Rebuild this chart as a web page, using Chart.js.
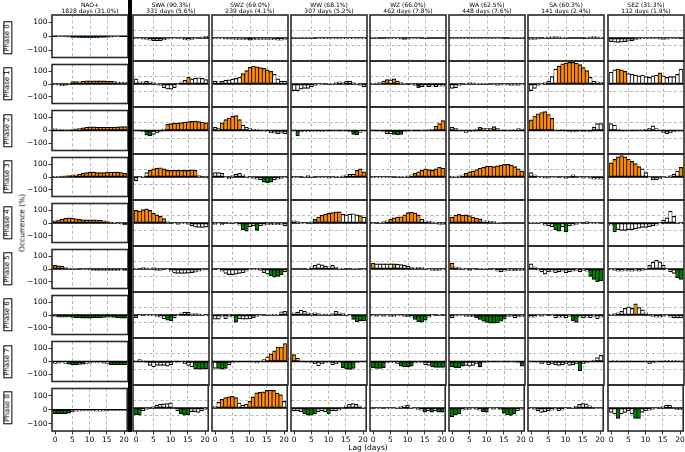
<!DOCTYPE html>
<html>
<head>
<meta charset="utf-8">
<script src="https://cdn.jsdelivr.net/npm/chart.js@4.4.1/dist/chart.umd.min.js"></script>
<style>
  body { margin: 0; background: #fff; }
  #fig { position: relative; width: 685px; height: 452px; overflow: hidden; font-family: 'DejaVu Sans', sans-serif; color: #000; }
  #fig canvas { position: absolute; }
  .rot { position: absolute; white-space: nowrap; transform: translate(-50%, -50%) rotate(-90deg); }
  .phase { font-size: 7px; line-height: 7.3px; padding: 0 1.5px; border: 1px solid #000; background: #fff; }
  .lbl { font-size: 7.5px; }
  #sep { position: absolute; left: 128.3px; top: 0; width: 4px; height: 432px; background: #000; }
</style>
</head>
<body>
<div id="fig"></div>
<script>
// lags (days) and axis ticks
const lags = [0, 1, 2, 3, 4, 5, 6, 7, 8, 9, 10, 11, 12, 13, 14, 15, 16, 17, 18, 19, 20]
const xTicks = [0, 5, 10, 15, 20]
const yTicks = [-100, -50, 0, 50, 100]
const phases = ['Phase 0', 'Phase 1', 'Phase 2', 'Phase 3', 'Phase 4', 'Phase 5', 'Phase 6', 'Phase 7', 'Phase 8']
const regimeNames = ['NAO+', 'SWA (90.3%)', 'SWZ (69.0%)', 'WW (68.1%)', 'WZ (66.0%)', 'WA (62.5%)', 'SA (60.3%)', 'SEZ (31.3%)']
const regimeDays = ['1828 days (31.0%)', '331 days (5.6%)', '239 days (4.1%)', '307 days (5.2%)', '462 days (7.8%)', '448 days (7.6%)', '141 days (2.4%)', '112 days (1.9%)']

// occurrence anomaly (%) per phase, one row per phase 0..8
const naoPlus = [
  [0,-2,-3,-4,-6,-8,-9,-10,-10,-10,-10,-10,-10,-9,-8,-7,-6,-4,-2,0,0],
  [-5,-10,-15,-12,5,20,20,18,22,25,25,25,25,25,25,22,22,20,15,15,15],
  [12,10,8,5,5,8,12,15,20,25,28,28,25,25,25,25,25,25,28,30,30],
  [3,5,8,10,12,15,18,22,28,35,38,38,35,35,35,38,38,38,38,35,28],
  [17,24,30,37,40,38,33,28,25,25,25,25,24,22,18,12,8,2,-5,-10,-15],
  [28,25,22,12,5,3,2,0,-3,-5,-10,-12,-12,-12,-12,-12,-12,-12,-12,-10,-12],
  [-12,-18,-18,-18,-16,-20,-22,-24,-25,-25,-25,-24,-22,-22,-20,-18,-18,-20,-22,-25,-25],
  [-15,-12,-10,-15,-20,-25,-25,-22,-20,-15,-12,-10,-8,-10,-12,-15,-25,-25,-25,-25,-25],
  [-28,-28,-28,-28,-25,-15,-10,-10,-8,-5,-5,-8,-10,-10,-8,-8,-5,-5,-3,-5,-3]
]
const swa = [
  [-3,-5,-8,-10,-15,-18,-20,-18,-12,-8,-5,-5,-3,-5,-12,-15,-10,-5,0,8,12],
  [35,15,15,18,15,10,5,-10,-25,-35,-35,-25,-5,15,25,45,35,40,42,38,30],
  [5,0,-10,-30,-35,-25,-15,-10,10,40,45,48,48,52,55,58,60,62,58,55,50],
  [-25,-5,5,30,45,55,60,62,55,45,45,45,45,45,45,45,48,45,10,0,-8],
  [85,80,90,95,85,65,55,45,30,10,0,-5,-10,-5,-5,-10,-20,-28,-30,-30,-28],
  [5,0,10,8,5,10,-10,-10,0,-5,-15,-28,-30,-30,-30,-28,-25,-22,-15,-8,0],
  [-18,-5,0,-5,-5,-5,-10,-15,-25,-35,-38,-20,-5,15,20,18,8,10,8,5,-5],
  [5,12,5,-10,-25,-35,-25,-25,-25,-30,-20,-8,0,-3,-15,-25,-35,-48,-50,-50,-48],
  [-45,-48,-20,-10,0,10,20,25,28,30,35,0,-20,-40,-48,-45,-25,-25,-30,-20,-10]
]
const swz = [
  [-3,-5,-5,-8,-8,-8,-10,-10,-10,-12,-15,-12,-10,-10,-10,-10,-10,-12,-15,-15,-10],
  [20,15,18,25,28,32,38,45,70,90,112,120,115,110,105,95,85,65,35,20,20],
  [20,15,50,72,82,93,98,72,35,20,12,10,8,5,-3,-8,-15,-18,-20,-18,-20],
  [30,30,25,-5,-12,10,20,25,15,5,-5,-10,-15,-20,-35,-38,-35,-20,-15,-10,-5],
  [-10,-5,-12,0,5,2,-5,-15,-45,-55,-25,-20,-50,-20,-15,-10,-12,-10,-12,-10,-20],
  [0,-5,-15,-30,-38,-38,-35,-30,-25,-15,-5,-3,-5,-10,-25,-35,-45,-55,-50,-40,-20],
  [-28,-28,-10,-25,-10,-15,-48,-25,-28,-28,-25,-18,-10,-5,0,5,5,2,5,22,25],
  [-45,-45,-50,-45,-20,-10,-5,0,0,0,0,-5,-10,-5,12,30,50,70,95,95,118],
  [10,38,58,70,75,78,70,35,20,25,45,75,102,105,108,118,120,118,100,90,45]
]
const ww = [
  [2,3,3,3,3,2,0,-2,-3,-5,-5,-5,-3,-3,-5,-5,-5,-5,-3,-5,-5],
  [-45,-45,-35,-30,-30,-20,-10,-5,-3,0,2,5,10,15,10,18,20,10,5,-10,-20],
  [5,-35,-10,-8,-8,-5,-5,-8,-8,-5,0,5,2,0,-3,-5,-10,-25,-28,-12,-5],
  [-5,-2,0,5,10,5,0,-2,-3,-5,-8,-3,2,5,8,15,18,20,45,55,35],
  [15,10,-5,-5,0,10,25,40,52,60,65,70,75,75,58,55,60,62,55,50,40],
  [0,0,0,0,5,15,25,35,28,20,15,25,12,5,2,0,0,2,3,0,-5],
  [15,20,32,25,15,10,15,10,5,8,5,10,25,15,10,5,-5,-30,-45,-40,-40],
  [45,20,5,0,-5,-10,-15,-28,-15,-10,-5,-20,-15,-10,-40,-50,-52,-45,-10,-5,5],
  [-20,-20,-25,-40,-48,-48,-40,-25,-20,-25,-40,-20,-20,-15,0,15,25,30,25,15,5]
]
const wz = [
  [3,2,0,0,-2,-3,-5,-5,-8,-10,-8,-5,-3,-2,0,2,0,0,0,0,0],
  [5,8,10,20,30,28,35,20,10,2,0,-3,-10,-25,-18,-15,-18,-15,-18,-15,-15],
  [5,0,-5,-10,-20,-20,-25,-28,-25,-10,-5,-3,0,0,2,5,5,10,28,45,65],
  [-5,-5,-5,-5,-3,-3,0,2,3,5,8,15,25,35,45,55,50,45,55,65,60],
  [-3,0,5,10,15,25,35,40,42,55,70,72,68,55,25,15,12,8,5,-10,-10],
  [40,35,35,35,35,35,35,33,30,25,20,12,8,12,10,2,-5,-10,-10,-10,-5],
  [-5,-10,-5,-10,-5,-10,-10,-5,-5,-10,-12,-15,-30,-45,-48,-35,-15,-5,0,5,0],
  [-40,-45,-45,-40,-10,-5,-8,-15,-30,-35,-35,-30,-10,-5,-8,-20,-25,-35,-38,-38,-38],
  [0,-5,-3,0,-5,-5,-3,5,10,15,20,5,-5,-10,-15,-28,-20,-28,-20,-28,-28]
]
const wa = [
  [-3,-3,-2,-2,-2,-2,-2,-2,-3,-3,-3,-2,-2,-2,-2,0,0,2,3,3,3],
  [-30,-25,-10,0,5,10,8,5,5,3,2,0,-5,-10,-8,-5,-8,-10,-8,-10,-5],
  [20,15,5,-5,-12,-10,-5,10,20,15,12,15,25,15,5,0,-2,0,8,12,10],
  [2,5,8,15,25,35,40,50,60,65,72,72,70,75,80,85,85,80,70,55,40],
  [40,52,58,52,55,50,40,32,28,15,15,12,10,5,2,0,0,0,0,0,0],
  [40,15,10,3,-5,-12,-5,0,5,5,2,0,-5,-15,-20,-15,-10,-10,-12,-10,-10],
  [-20,-8,-5,-5,-10,-10,-12,-18,-30,-42,-50,-55,-55,-52,-42,-28,-10,-10,-20,-12,-10],
  [-35,-40,-40,-30,-25,-30,-25,-15,-35,-10,-5,-5,0,-5,-3,0,0,-3,-5,-10,-30],
  [-60,-45,-40,-15,-10,-10,-5,-10,-15,-25,-28,-5,-10,-5,-12,-35,-45,-50,-40,-20,-10]
]
const sa = [
  [-10,-10,-8,0,5,8,8,10,8,5,2,0,0,0,0,0,5,8,10,8,5],
  [-45,-30,-10,-5,10,20,50,100,120,135,140,145,145,140,130,110,90,45,20,15,12],
  [70,95,110,118,124,105,80,5,0,8,-5,-10,-10,-10,-5,-10,-5,-10,20,45,45],
  [30,15,-5,-5,-8,-8,-5,-5,0,-5,-10,0,15,0,-5,-8,-5,-10,-15,-15,-15],
  [5,2,3,-5,-15,-20,-25,-45,-55,-25,-60,-20,-15,-10,-5,0,10,-5,-3,-5,0],
  [35,15,-8,-20,-35,-20,-15,-25,-20,-15,-25,-20,-15,-10,-20,-10,-15,-50,-70,-85,-80],
  [-15,-15,-5,-10,-5,0,-5,-20,-15,-15,-20,-10,-40,-50,-15,-20,-15,-20,-10,-25,-15],
  [5,0,-5,-15,-10,-20,-15,-20,-25,-20,-15,-25,-20,-15,-60,-15,-10,0,10,25,40],
  [-5,-10,-20,-30,-25,-20,-15,-8,-20,-15,-5,0,5,12,25,30,28,15,0,-3,-3]
]
const sez = [
  [-25,-28,-30,-28,-25,-22,-18,-12,-8,-5,-3,-2,-2,-3,-8,-10,-8,-5,-3,-2,0],
  [80,95,100,95,85,70,65,60,55,60,50,45,55,60,75,55,45,50,50,65,100],
  [45,35,10,0,-5,-3,0,5,5,5,10,15,30,12,-5,-15,-20,-15,-10,-5,-5],
  [95,118,135,143,135,120,105,90,70,55,30,-5,-20,-20,-12,-5,5,10,20,40,65],
  [-15,-60,-45,-50,-50,-45,-45,-40,-35,-30,-30,-25,-20,-15,-5,20,35,80,45,5,-5],
  [-5,-10,-15,-15,-10,-15,-15,-10,-15,-10,5,25,45,58,48,25,-5,-20,-30,-60,-70],
  [5,10,15,25,45,55,45,75,50,35,15,0,-10,-15,-15,-10,-5,-15,-20,-20,-20],
  [0,8,0,0,0,8,0,0,0,0,-3,-15,-10,-3,0,5,8,8,8,5,5],
  [-30,-40,-70,-40,-30,-20,-40,-70,-70,-30,-20,-15,-10,-5,0,10,20,20,0,-12,-12]
]

// significance per lag: o = positive significant, g = negative significant, w = not significant
// written as lags 0-6, 7-13, 14-20
const naoPlusSig = [
  'wwwwwgg ggggggg ggwwwww', 'wwwwwoo ooooooo ooowwww', 'wwwwwoo ooooooo ooooooo',
  'wwooooo ooooooo ooooooo', 'ooooooo ooooooo ooowwwg', 'ooowwww wwwwwww wwwwwwg',
  'wgggggg ggggggg ggggggg', 'wwwwggg ggwwwww wwggggg', 'gggggww wwwwwww wwwwwww'
]
const swaSig = [
  'wwwwwww wwwwwww wwwwwww', 'wwwwwww wwwwwww wowwwww', 'wwwggww wwooooo ooooooo',
  'wwwwooo ooooooo oooowww', 'ooooooo oowwwww wwwwwww', 'wwwwwww wwwwwww wwwwwww',
  'wwwwwww wwggwww wwwwwww', 'wwwwwww wwwwwww wwwgggg', 'ggwwwww wwwwwwg ggwwwww'
]
const swzSig = [
  'wwwwwww wwwgwww wwwwwww', 'wwwwwww woooooo ooowwww', 'wwooooo owwwwww wwwwwww',
  'wwwwwww wwwwwww gggwwww', 'wwwwwww wggwwgw wwwwwww', 'wwwwwww wwwwwww wwggggw',
  'wwwwwwg wwwwwww wwwwwww', 'wgggwww wwwwwww wwooooo', 'wwooooo wwwoooo oooooow'
]
const wwSig = [
  'wwwwwww wwwwwww wwwwwww', 'wwwwwww wwwwwww wwwwwww', 'wgwwwww wwwwwww wwwggww',
  'wwwwwww wwwwwww wwwwooo', 'wwwwwwo ooooooo wwwwwow', 'wwwwwww wwwwwww wwwwwww',
  'wwwwwww wwwwwww wwwgggg', 'owwwwww wwwwwww ggggwww', 'wwwgggg wwwgwww wwwwwww'
]
const wzSig = [
  'wwwwwww wwgwwww wwwwwww', 'wwwwowo wwwwwwg wwwwwww', 'wwwwwwg ggwwwww wwwwooo',
  'wwwwwww wwwwwoo ooooooo', 'wwwwwoo ooooooo wwwwwww', 'owwwwwo wwwwwww wwwwwww',
  'wwwwwww wwwwwgg ggwwwww', 'ggggwww wggggww wwwgggg', 'wwwwwww wwwwwww wgwgwgg'
]
const waSig = [
  'wwwwwww wwwwwww wwwwwww', 'wwwwwww wwwwwww wwwwwww', 'wwwwwww wowwwow wwwwwww',
  'wwwwooo ooooooo ooooooo', 'ooooooo oowwwww wwwwwww', 'owwwwww wwwwwww wwwwwww',
  'wwwwwww ggggggg ggwwwww', 'ggggwww wgwwwww wwwwwwg', 'gggwwww wwggwww wggggww'
]
const saSig = [
  'wwwwwww wwwwwww wwwwwww', 'wwwwwww woooooo ooowwww', 'ooooooo wwwwwww wwwwwww',
  'wwwwwww wwwwwww wwwwwww', 'wwwwwww ggwgwww wwwwwww', 'wwwwwww wwwwwww wwwgggg',
  'wwwwwww wwwwwgg wwwwwww', 'wwwwwww wwwwwww gwwwwww', 'wwwwwww wwwwwww wwwwwww'
]
const sezSig = [
  'wwwwwww wwwwwww wwwwwww', 'wwoooww wwwwwww owwwwww', 'wwwwwww wwwwwww wwwwwww',
  'ooooooo oowwwww wwwwwwo', 'wgwwwww wwwwwww wwwwwww', 'wwwwwww wwwwwww wwwwwgg',
  'wwwwwww owwwwww wwwwwww', 'wwwwwww wwwwwww wwwwwww', 'wwgwwww ggwwwww wwwwwww'
]

const columns = [
  [naoPlus, naoPlusSig], [swa, swaSig], [swz, swzSig], [ww, wwSig],
  [wz, wzSig], [wa, waSig], [sa, saSig], [sez, sezSig]
]

const fill = { o: '#ff8c00', g: '#008000', w: '#ffffff' }

// panel grid (pixels)
const colLeft = [52, 133, 212, 291, 370, 449, 528, 608]
const panelW = 76
const rowTop = [15, 61, 107, 154, 200, 246, 292, 338, 385, 431]

Chart.defaults.font.family = "'DejaVu Sans', sans-serif"
Chart.defaults.color = '#000'

const gridCol = '#9fa8a8'

// zero line under the bars + panel frame
const panelPlugin = {
  id: 'panel',
  beforeDatasetsDraw(chart) {
    const a = chart.chartArea, c = chart.ctx
    const y0 = chart.scales.y.getPixelForValue(0)
    c.save()
    c.strokeStyle = '#000'
    c.lineWidth = 1.6
    c.beginPath()
    c.moveTo(a.left, y0)
    c.lineTo(a.right, y0)
    c.stroke()
    c.restore()
  },
  afterDraw(chart) {
    const a = chart.chartArea, c = chart.ctx
    c.save()
    c.strokeStyle = '#2a2a2a'
    c.lineWidth = 1.6
    c.strokeRect(a.left, a.top, a.right - a.left, a.bottom - a.top)
    c.restore()
  }
}

const fig = document.getElementById('fig')

function minus(v) {
  return v < 0 ? '\u2212' + (-v) : String(v)
}

for (let r = 0; r < 9; r++) {
  for (let c = 0; c < 8; c++) {
    const vals = columns[c][0][r]
    const sig = columns[c][1][r].replace(/ /g, '')

    const padL = c === 0 ? 0 : 2, padR = 2
    const padT = r === 0 ? 0 : 2, padB = r === 8 ? 0 : 2
    const yW = c === 0 ? colLeft[0] : 0
    const tH = r === 0 ? rowTop[0] : 0
    const xH = r === 8 ? 452 - rowTop[9] : 0
    const left = colLeft[c] - padL - yW
    const top = rowTop[r] - padT - tH
    const w = padL + yW + panelW + padR
    const h = padT + tH + (rowTop[r + 1] - rowTop[r]) + xH + padB

    const cv = document.createElement('canvas')
    cv.width = w
    cv.height = h
    cv.style.left = left + 'px'
    cv.style.top = top + 'px'
    cv.style.width = w + 'px'
    cv.style.height = h + 'px'
    fig.appendChild(cv)

    new Chart(cv.getContext('2d'), {
      type: 'bar',
      data: {
        datasets: [{
          data: lags.map((x, i) => ({ x: x, y: vals[i] })),
          backgroundColor: lags.map((x, i) => fill[sig[i]]),
          borderColor: '#000',
          borderWidth: { top: 1.2, bottom: 1.2, left: 0.75, right: 0.75 },
          borderSkipped: false,
          barPercentage: 1,
          categoryPercentage: 1
        }]
      },
      options: {
        responsive: false,
        animation: false,
        events: [],
        layout: { padding: { left: padL, right: padR, top: padT, bottom: padB }, autoPadding: false },
        plugins: {
          legend: { display: false },
          tooltip: { enabled: false },
          title: {
            display: r === 0,
            fullSize: false,
            text: [regimeNames[c], regimeDays[c]],
            font: { size: 6, lineHeight: 1, weight: 'normal' },
            color: '#000',
            padding: { top: 2, bottom: 1 }
          }
        },
        scales: {
          x: {
            type: 'linear',
            min: -0.9,
            max: 20.9,
            offset: false,
            afterBuildTicks: s => { s.ticks = xTicks.map(v => ({ value: v })) },
            afterFit: s => { s.height = xH },
            ticks: { display: r === 8, font: { size: 7.5 }, padding: 1, maxRotation: 0, autoSkip: false },
            grid: {
              offset: false,
              color: ctx => (ctx.tick && [5, 10, 15].includes(ctx.tick.value)) ? gridCol : 'rgba(0,0,0,0)',
              lineWidth: 0.8,
              drawTicks: r === 8,
              tickLength: 3.5,
              tickColor: '#000',
              tickWidth: 0.8
            },
            border: { display: false, dash: [3, 2.5] }
          },
          y: {
            min: -154,
            max: 154,
            afterBuildTicks: s => { s.ticks = yTicks.map(v => ({ value: v })) },
            afterFit: s => { s.width = yW },
            ticks: { display: c === 0, font: { size: 7.5 }, padding: 1, callback: v => minus(v) },
            grid: {
              color: ctx => (ctx.tick && Math.abs(ctx.tick.value) === 50) ? gridCol : 'rgba(0,0,0,0)',
              lineWidth: 0.8,
              drawTicks: c === 0,
              tickLength: 3.5,
              tickColor: '#000',
              tickWidth: 0.8
            },
            border: { display: false, dash: [3, 2.5] }
          }
        }
      },
      plugins: [panelPlugin]
    })
  }
}

// thick separator between NAO+ and the other regimes
const sep = document.createElement('div')
sep.id = 'sep'
fig.appendChild(sep)

// phase labels in boxes
phases.forEach((p, r) => {
  const d = document.createElement('div')
  d.className = 'rot phase'
  d.textContent = p
  d.style.left = '8px'
  d.style.top = ((rowTop[r] + rowTop[r + 1]) / 2) + 'px'
  fig.appendChild(d)
})

const yl = document.createElement('div')
yl.className = 'rot lbl'
yl.textContent = 'Occurrence (%)'
yl.style.left = '22px'
yl.style.top = '223px'
fig.appendChild(yl)

const xl = document.createElement('div')
xl.className = 'lbl'
xl.style.position = 'absolute'
xl.style.left = '368px'
xl.style.top = '447px'
xl.style.transform = 'translate(-50%, -50%)'
xl.style.whiteSpace = 'nowrap'
xl.textContent = 'Lag (days)'
fig.appendChild(xl)
</script>
</body>
</html>
